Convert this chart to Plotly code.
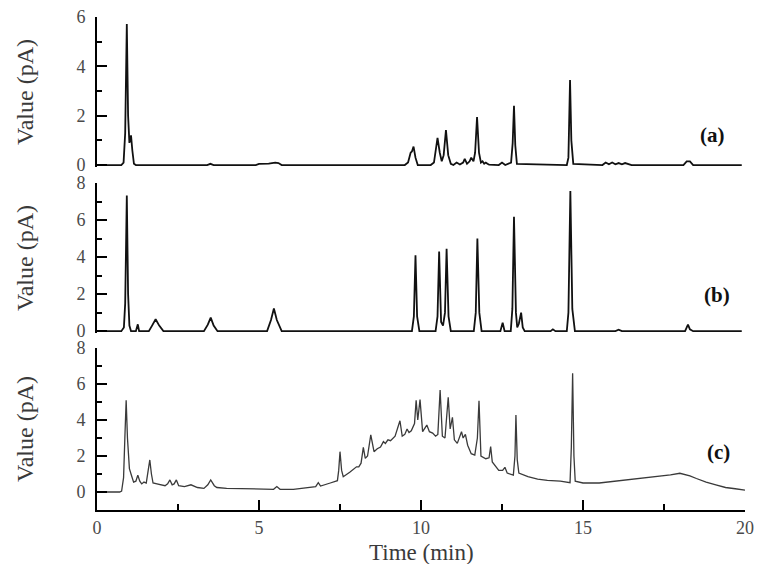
import plotly.graph_objects as go

# ---------------- data ----------------
time_a = [0, 0.75, 0.82, 0.87, 0.92, 0.96, 1.0, 1.05, 1.09, 1.14, 1.2, 3.4, 3.5, 3.6, 4.9, 5.0, 5.3,
          5.5, 5.6, 5.7, 9.5, 9.6, 9.68, 9.72, 9.77, 9.83, 9.9, 10.3, 10.4, 10.46, 10.51, 10.58,
          10.64, 10.7, 10.77, 10.84, 10.92, 11.0, 11.1, 11.2, 11.3, 11.35, 11.42, 11.5, 11.55,
          11.62, 11.67, 11.73, 11.79, 11.85, 11.9, 11.95, 12.0, 12.05, 12.1, 12.4, 12.5, 12.6,
          12.78, 12.83, 12.87, 12.91, 12.96, 14.5, 14.55, 14.6, 14.64, 14.7, 15.6, 15.7, 15.8,
          15.9, 16.0, 16.1, 16.2, 16.3, 16.4, 16.5, 18.1, 18.2, 18.3, 18.4, 19.9]
value_a = [0, 0, 0.1, 1.3, 5.72, 2.0, 0.9, 1.2, 0.6, 0.05, 0, 0, 0.05, 0, 0, 0.05, 0.06,
           0.1, 0.08, 0, 0, 0.1, 0.5, 0.55, 0.75, 0.3, 0, 0, 0.1, 0.6, 1.1, 0.5,
           0.15, 0.4, 1.42, 0.4, 0.05, 0, 0.1, 0.02, 0.1, 0.25, 0.05, 0.15, 0.3,
           0.15, 0.5, 1.95, 0.5, 0.1, 0.15, 0.05, 0.1, 0.05, 0.02, 0, 0.1, 0,
           0.1, 0.9, 2.4, 0.8, 0.05, 0, 0.3, 3.45, 1.0, 0.05, 0, 0.1, 0.03,
           0.1, 0.03, 0.08, 0.03, 0.08, 0.03, 0, 0, 0.15, 0.15, 0, 0]

time_b = [0, 0.75, 0.83, 0.87, 0.92, 0.96, 1.0, 1.05, 1.2, 1.26, 1.3, 1.6, 1.7, 1.81, 1.92, 2.05,
          3.3, 3.42, 3.51, 3.6, 3.72, 5.25, 5.37, 5.46, 5.55, 5.7, 9.72, 9.78, 9.83, 9.88, 9.95,
          10.45, 10.51, 10.56, 10.62, 10.68, 10.74, 10.79, 10.85, 10.92, 11.63, 11.69, 11.74,
          11.8, 11.87, 12.45, 12.52, 12.58, 12.77, 12.82, 12.87, 12.93, 12.97, 13.02, 13.09,
          13.14, 13.2, 14.0, 14.07, 14.15, 14.5, 14.55, 14.61, 14.67, 14.75, 16.0, 16.1, 16.2,
          18.15, 18.24, 18.3, 18.4, 19.9]
value_b = [0, 0, 0.2, 1.5, 7.32, 2.0, 0.3, 0, 0, 0.37, 0, 0, 0.3, 0.64, 0.3, 0,
           0, 0.35, 0.73, 0.3, 0, 0, 0.6, 1.22, 0.6, 0, 0, 0.8, 4.1, 0.8, 0,
           0, 0.8, 4.3, 0.5, 0.3, 1.0, 4.45, 0.8, 0, 0, 1.0, 5.0,
           1.0, 0, 0, 0.46, 0, 0, 1.2, 6.18, 1.0, 0.2, 0.4, 1.0,
           0.2, 0, 0, 0.1, 0, 0, 1.0, 7.57, 1.2, 0, 0, 0.08, 0,
           0, 0.35, 0.1, 0, 0]

time_c = [0, 0.7, 0.76, 0.82, 0.86, 0.9, 0.94, 0.98, 1.0, 1.05, 1.13, 1.2, 1.26, 1.32, 1.38,
          1.45, 1.52, 1.58, 1.63, 1.68, 1.73, 1.85, 2.0, 2.1, 2.18, 2.25, 2.32, 2.38, 2.45,
          2.52, 2.7, 2.9, 3.1, 3.3, 3.42, 3.51, 3.62, 3.7, 4.0, 4.5, 5.03, 5.45, 5.55, 5.65,
          6.06, 6.5, 6.75, 6.83, 6.9, 7.2, 7.42, 7.46, 7.5, 7.55, 7.6, 7.8, 8.01, 8.08, 8.15,
          8.22, 8.28, 8.35, 8.45, 8.55, 8.65, 8.75, 8.84, 8.9, 8.98, 9.06, 9.12, 9.2, 9.35,
          9.42, 9.5, 9.57, 9.63, 9.7, 9.8, 9.85, 9.9, 9.97, 10.05, 10.18, 10.26, 10.36, 10.45,
          10.52, 10.59, 10.66, 10.74, 10.84, 10.9, 10.97, 11.03, 11.12, 11.25, 11.3, 11.37,
          11.44, 11.55, 11.66, 11.74, 11.79, 11.85, 12.0, 12.1, 12.15, 12.2, 12.4, 12.52,
          12.59, 12.66, 12.78, 12.85, 12.9, 12.93, 12.97, 13.02, 13.3, 13.6, 13.9, 14.3,
          14.6, 14.64, 14.68, 14.72, 14.76, 15.0, 15.5, 16.0, 16.5, 17.0, 17.38, 17.7, 17.99,
          18.2, 18.3, 18.5, 18.8, 19.1, 19.4, 19.7, 20.0]
value_c = [0, 0, 0.05, 0.8, 3.0, 5.1, 3.0, 1.5, 1.3, 1.0, 0.55, 0.6, 0.94, 0.6, 0.45,
           0.55, 0.5, 1.2, 1.78, 1.0, 0.5, 0.45, 0.4, 0.35, 0.45, 0.67, 0.4, 0.45, 0.67,
           0.35, 0.3, 0.4, 0.25, 0.2, 0.4, 0.67, 0.35, 0.25, 0.2, 0.18, 0.15, 0.15, 0.3, 0.15,
           0.15, 0.22, 0.3, 0.52, 0.33, 0.5, 0.63, 1.2, 2.24, 1.2, 0.85, 1.1, 1.4, 1.4, 1.6,
           2.48, 1.87, 2.0, 3.17, 2.24, 2.4, 2.5, 2.8, 2.7, 2.9, 2.85, 2.98, 3.1, 3.96,
           3.1, 3.2, 3.5, 3.3, 3.4, 3.8, 5.1, 4.0, 5.13, 3.35, 3.72, 3.35, 3.27, 3.1,
           3.2, 5.67, 3.1, 3.0, 5.26, 3.5, 4.15, 2.9, 2.7, 3.35, 3.0, 3.2,
           2.6, 2.13, 2.05, 3.0, 5.07, 2.0, 1.85, 1.9, 2.52, 1.67, 1.2, 1.2,
           1.37, 1.05, 1.0, 0.94, 2.0, 4.28, 1.8, 1.05, 0.85, 0.72, 0.65, 0.6,
           0.52, 2.5, 6.6, 2.0, 0.6, 0.5, 0.5, 0.6, 0.7, 0.8, 0.89, 0.95, 1.04,
           0.95, 0.9, 0.75, 0.55, 0.4, 0.25, 0.18, 0.1]

panel_labels = ["(a)", "(b)", "(c)"]
label_pos_t = [19.0, 19.13, 19.18]
label_pos_v = [1.2, 1.94, 2.24]
x_ticks = [0, 5, 10, 15, 20]
y_title = "Value (pA)"
x_title = "Time (min)"

# ---------------- figure ----------------
FONT = "Liberation Serif"
fig = go.Figure()
fig.add_trace(go.Scatter(x=time_a, y=value_a, mode="lines", xaxis="x", yaxis="y",
                         line=dict(color="#111111", width=1.8), showlegend=False))
fig.add_trace(go.Scatter(x=time_b, y=value_b, mode="lines", xaxis="x2", yaxis="y2",
                         line=dict(color="#111111", width=1.8), showlegend=False))
fig.add_trace(go.Scatter(x=time_c, y=value_c, mode="lines", xaxis="x3", yaxis="y3",
                         line=dict(color="#3a3a3a", width=1.3), showlegend=False))

yaxis_common = dict(
    showline=True, linecolor="black", linewidth=2, ticks="inside", ticklen=10, tickwidth=2,
    tickcolor="black", dtick=2, showgrid=False, zeroline=False, automargin=False,
    ticklabelstandoff=6,
    minor=dict(ticks="inside", ticklen=5, tickwidth=2, dtick=1, tickcolor="black", showgrid=False),
    tickfont=dict(family=FONT, size=18, color="#4a4a4a"),
    title=dict(text=y_title, font=dict(family=FONT, size=24, color="#3a3a3a"), standoff=36),
)
xaxis_hidden = dict(range=[0, 20], showline=False, showticklabels=False, ticks="",
                    showgrid=False, zeroline=False, automargin=False)

fig.update_layout(
    width=767, height=564,
    margin=dict(l=97, r=22, t=17, b=54),
    paper_bgcolor="white", plot_bgcolor="white",
    xaxis=dict(xaxis_hidden, anchor="y"),
    xaxis2=dict(xaxis_hidden, anchor="y2", matches="x"),
    xaxis3=dict(range=[0, 20], anchor="y3", matches="x", showline=True, linecolor="black",
                linewidth=2, ticks="inside", ticklen=10, tickwidth=2, tickcolor="black",
                tickvals=x_ticks, showgrid=False, zeroline=False, automargin=False,
                minor=dict(ticks="inside", ticklen=6, tickwidth=2, dtick=2.5, tickcolor="black",
                           showgrid=False),
                tickfont=dict(family=FONT, size=18, color="#4a4a4a")),
    yaxis=dict(yaxis_common, domain=[0.6957, 1.0], range=[-0.08, 6.0], anchor="x"),
    yaxis2=dict(yaxis_common, domain=[0.359, 0.6633], range=[-0.1, 8.0], anchor="x2"),
    yaxis3=dict(yaxis_common, domain=[0.0, 0.3286], range=[-1.0, 8.0], anchor="x3"),
)

# x-axis title placed as an annotation just below the tick labels
fig.add_annotation(text=x_title, x=10, xref="x3", y=-0.087, yref="paper", yanchor="middle",
                   showarrow=False, borderpad=0,
                   font=dict(family=FONT, size=23, color="#3a3a3a"))

for i, (lab, t, v) in enumerate(zip(panel_labels, label_pos_t, label_pos_v)):
    sfx = "" if i == 0 else str(i + 1)
    fig.add_annotation(text=f"<b>{lab}</b>", x=t, y=v, xref="x" + sfx, yref="y" + sfx,
                       showarrow=False, font=dict(family=FONT, size=21, color="#111111"))

fig.write_html("out.html", config={"displayModeBar": False},
               post_script="document.body.style.margin='0';")
